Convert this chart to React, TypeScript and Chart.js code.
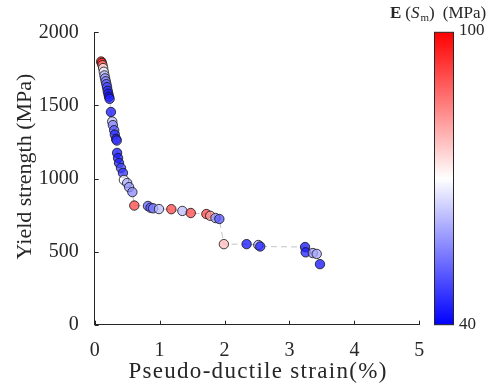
import React, { useEffect, useRef } from "react";
import { Chart, registerables } from "chart.js";
Chart.register(...registerables);

const strain = [
  0.10, 0.11, 0.12, 0.13, 0.14, 0.15, 0.16, 0.17, 0.18, 0.19, 0.20, 0.21, 0.22, 0.23,
  0.25, 0.27, 0.28, 0.30, 0.31, 0.33, 0.34, 0.345, 0.36, 0.375, 0.405, 0.435,
  0.45, 0.50, 0.53, 0.58, 0.61,
  0.82, 0.86, 0.90, 0.99, 1.18, 1.35, 1.48, 1.72, 1.78, 1.86, 1.92,
  1.99, 2.34, 2.52, 2.55, 3.24, 3.25, 3.36, 3.42, 3.47,
];
const strength = [
  1800, 1790, 1775, 1755, 1730, 1705, 1685, 1665, 1645, 1625, 1600, 1580, 1560, 1545,
  1455, 1390, 1365, 1330, 1300, 1270, 1260, 1175, 1140, 1106, 1072, 1038,
  990, 969, 941, 907, 815,
  812, 800, 796, 791, 790, 778, 764, 757, 745, 730, 723,
  551, 551, 545, 535, 531, 495, 490, 484, 414,
];
const modulus = [
  98, 95, 85, 72, 68, 62, 58, 55, 52, 48, 45, 43, 42, 44,
  42, 62, 56, 50, 45, 44, 46, 42, 43, 44, 48, 46,
  70, 60, 58, 56, 92,
  52, 50, 55, 62, 92, 62, 92, 92, 82, 58, 50,
  78, 42, 60, 44, 42, 44, 58, 60, 42,
];
const xTicks = [0, 1, 2, 3, 4, 5];
const yTicks = [0, 500, 1000, 1500, 2000];
const cMin = 40;
const cMax = 100;
const xTitle = "Pseudo-ductile strain(%)";
const yTitle = "Yield strength (MPa)";

function cmap(v: number, a = 1): string {
  const t = Math.max(0, Math.min(1, (v - cMin) / (cMax - cMin)));
  let r: number, g: number, b: number;
  if (t < 0.5) {
    const s = t / 0.5;
    r = 255 * s; g = 255 * s; b = 255;
  } else {
    const s = (t - 0.5) / 0.5;
    r = 255; g = 255 * (1 - s); b = 255 * (1 - s);
  }
  return `rgba(${Math.round(r)},${Math.round(g)},${Math.round(b)},${a})`;
}

const AX = "#262626";
const SERIF = "'Liberation Serif', 'DejaVu Serif', serif";

const extras = {
  id: "extras",
  afterDraw(chart: any) {
    const ctx = chart.ctx as CanvasRenderingContext2D;
    const { left, right, top, bottom } = chart.chartArea;
    const xs = chart.scales.x;
    const ys = chart.scales.y;
    ctx.save();
    ctx.strokeStyle = AX;
    ctx.lineWidth = 1;
    ctx.beginPath();
    xTicks.forEach((v) => {
      const px = Math.round(xs.getPixelForValue(v)) + 0.5;
      ctx.moveTo(px, bottom);
      ctx.lineTo(px, bottom - 4);
    });
    yTicks.forEach((v) => {
      const py = Math.round(ys.getPixelForValue(v)) + 0.5;
      ctx.moveTo(left, py);
      ctx.lineTo(left + 4, py);
    });
    ctx.stroke();

    // axis titles
    ctx.fillStyle = AX;
    ctx.textAlign = "center";
    ctx.textBaseline = "middle";
    ctx.font = `23px ${SERIF}`;
    (ctx as any).letterSpacing = "1.3px";
    ctx.fillText(xTitle, (left + right) / 2 + 1, 372);
    (ctx as any).letterSpacing = "0px";
    ctx.save();
    ctx.translate(25, (top + bottom) / 2 - 12);
    ctx.rotate(-Math.PI / 2);
    ctx.font = `22px ${SERIF}`;
    ctx.fillText(yTitle, 0, 0);
    ctx.restore();

    // colorbar
    const cbL = 434.5, cbR = 453.5, cbT = top, cbB = bottom;
    const grad = ctx.createLinearGradient(0, cbB, 0, cbT);
    grad.addColorStop(0, cmap(40));
    grad.addColorStop(0.5, cmap(70));
    grad.addColorStop(1, cmap(100));
    ctx.fillStyle = grad;
    ctx.fillRect(cbL, cbT, cbR - cbL, cbB - cbT);
    ctx.strokeStyle = AX;
    ctx.strokeRect(cbL, cbT, cbR - cbL, cbB - cbT);

    ctx.fillStyle = AX;
    ctx.font = `17px ${SERIF}`;
    ctx.textAlign = "left";
    ctx.textBaseline = "middle";
    ctx.fillText("100", 459, cbT - 2);
    ctx.fillText("40", 459, cbB);

    // colorbar title
    ctx.textBaseline = "alphabetic";
    let x = 390;
    const by = 18;
    const piece = (t: string, font: string, dy = 0) => {
      ctx.font = font;
      ctx.fillText(t, x, by + dy);
      x += ctx.measureText(t).width;
    };
    piece("E", `bold 17px ${SERIF}`);
    x += 4;
    piece("(", `17px ${SERIF}`);
    piece("S", `italic 17px ${SERIF}`);
    x += 1;
    piece("m", `11px ${SERIF}`, 3);
    piece(")", `17px ${SERIF}`);
    x += 8;
    piece("(MPa)", `17px ${SERIF}`);
    ctx.restore();
  },
};

export default function App() {
  const ref = useRef<HTMLCanvasElement>(null);
  useEffect(() => {
    if (!ref.current) return;
    const pts = strain.map((x, i) => ({ x, y: strength[i] }));
    const chart = new Chart(ref.current, {
      type: "scatter",
      data: {
        datasets: [
          {
            data: pts,
            backgroundColor: modulus.map((m) => cmap(m, 0.75)),
            borderColor: "#111111",
            borderWidth: 0.8,
            pointRadius: 4.7,
            order: 1,
          },
          {
            data: pts,
            showLine: true,
            borderColor: "#c4c4c4",
            borderWidth: 1,
            borderDash: [6, 4],
            pointRadius: 0,
            order: 2,
          } as any,
        ],
      },
      options: {
        animation: false,
        responsive: false,
        devicePixelRatio: 1,
        layout: { padding: { left: 0, right: 78.7, top: 32.3, bottom: 0 } },
        plugins: { legend: { display: false }, tooltip: { enabled: false } },
        scales: {
          x: {
            type: "linear",
            min: 0,
            max: 5,
            afterFit: (s: any) => { s.height = 66.3; },
            afterBuildTicks: (s: any) => { s.ticks = xTicks.map((v) => ({ value: v })); },
            grid: { display: false },
            border: { display: true, color: AX, width: 1 },
            ticks: {
              color: AX,
              font: { family: SERIF, size: 20 },
              padding: 6,
              maxRotation: 0,
              callback: (v: any) => String(v),
            },
            title: { display: false },
          },
          y: {
            type: "linear",
            min: 0,
            max: 2000,
            afterFit: (s: any) => { s.width = 94.7; },
            afterBuildTicks: (s: any) => { s.ticks = yTicks.map((v) => ({ value: v })); },
            grid: { display: false },
            border: { display: true, color: AX, width: 1 },
            ticks: {
              color: AX,
              font: { family: SERIF, size: 20 },
              padding: 8,
              callback: (v: any) => String(v),
            },
            title: { display: false },
          },
        },
      },
      plugins: [extras],
    });
    return () => chart.destroy();
  }, []);
  return (
    <div style={{ position: "absolute", left: 0, top: 0, width: 498, height: 391, background: "#fff" }}>
      <canvas ref={ref} width={498} height={391} style={{ width: 498, height: 391 }} />
    </div>
  );
}
